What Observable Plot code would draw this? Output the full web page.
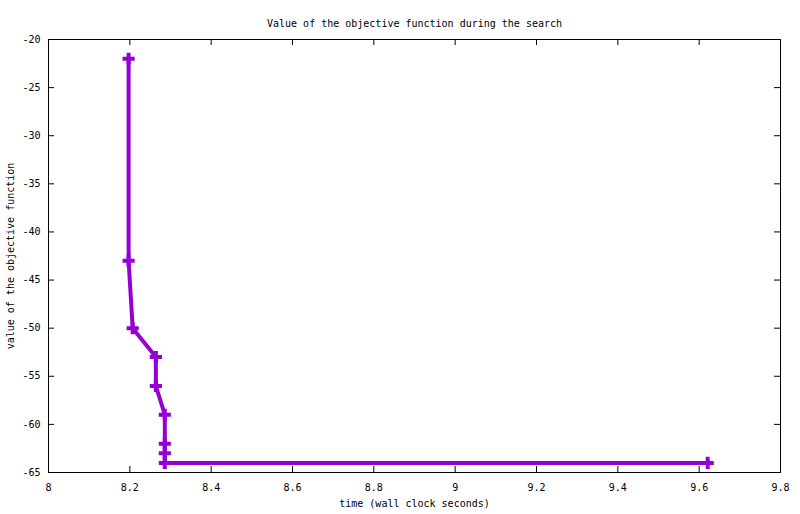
<!DOCTYPE html>
<html>
<head>
<meta charset="utf-8">
<script src="https://cdn.jsdelivr.net/npm/d3@7"></script>
<script src="https://cdn.jsdelivr.net/npm/@observablehq/plot@0.6"></script>
<style>
  html, body { margin: 0; padding: 0; background: #fff; }
</style>
</head>
<body>
<div id="chart"></div>
<script>
const title = "Value of the objective function during the search";
const xLabel = "time (wall clock seconds)";
const yLabel = "value of the objective function";

const times = [8.197, 8.197, 8.207, 8.264, 8.264, 8.286, 8.286, 8.286, 8.286, 9.621];
const values = [-22, -43, -50, -53, -56, -59, -62, -63, -64, -64];

const xTicks = [8, 8.2, 8.4, 8.6, 8.8, 9, 9.2, 9.4, 9.6, 9.8];
const yTicks = [-20, -25, -30, -35, -40, -45, -50, -55, -60, -65];

const data = times.map((t, i) => ({t, v: values[i]}));

const W = 800, H = 514;
const mL = 48, mR = 20, mT = 39, mB = 42;
const innerW = W - mL - mR, innerH = H - mT - mB;
const tick = 6;
const color = "#9400d3";
const fmt = d => String(+d.toFixed(1));

const chart = Plot.plot({
  width: W,
  height: H,
  marginLeft: mL,
  marginRight: mR,
  marginTop: mT,
  marginBottom: mB,
  style: {fontFamily: "'DejaVu Sans Mono', monospace", fontSize: "10px", color: "#000", background: "#fff"},
  x: {domain: [8, 9.8]},
  y: {domain: [-65, -20]},
  marks: [
    Plot.frame({stroke: "#000", strokeWidth: 1}),
    // inward ticks on all four sides
    Plot.ruleX(xTicks, {x: d => d, insetTop: innerH - tick, stroke: "#000"}),
    Plot.ruleX(xTicks, {x: d => d, insetBottom: innerH - tick, stroke: "#000"}),
    Plot.ruleY(yTicks, {y: d => d, insetRight: innerW - tick, stroke: "#000"}),
    Plot.ruleY(yTicks, {y: d => d, insetLeft: innerW - tick, stroke: "#000"}),
    Plot.axisX(xTicks, {anchor: "bottom", tickSize: 0, tickPadding: 11, tickFormat: fmt, label: null, fontSize: 10}),
    Plot.axisY(yTicks, {anchor: "left", tickSize: 0, tickPadding: 8, tickFormat: d => String(d), label: null, fontSize: 10}),
    Plot.line(data, {x: "t", y: "v", stroke: color, strokeWidth: 4, strokeLinejoin: "miter"}),
    Plot.dot(data, {x: "t", y: "v", symbol: "plus", r: 4, stroke: color, strokeWidth: 4, strokeLinecap: "butt"}),
    Plot.text([title], {frameAnchor: "top", dy: -20, fontSize: 10, fill: "#000"}),
    Plot.text([xLabel], {frameAnchor: "bottom", dy: 34, fontSize: 10, fill: "#000"}),
    Plot.text([yLabel], {frameAnchor: "left", dx: -38, rotate: -90, textAnchor: "middle", fontSize: 10, fill: "#000"})
  ]
});
document.getElementById("chart").appendChild(chart);
</script>
</body>
</html>
